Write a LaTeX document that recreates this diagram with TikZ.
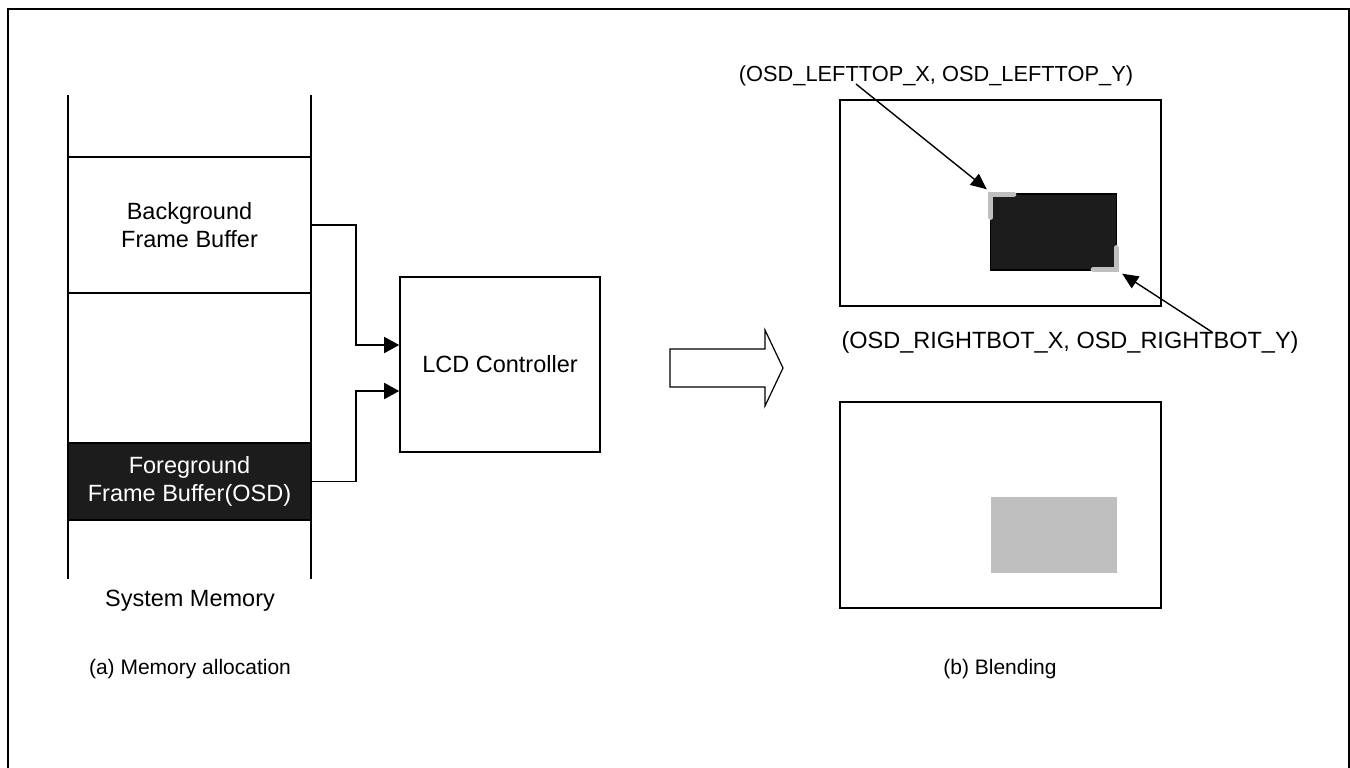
\documentclass[tikz,border=0pt]{standalone}
\usepackage{fontspec}
\setmainfont{Liberation Sans}
\usetikzlibrary{positioning,calc,arrows.meta}
\tikzset{
  line/.style    = {line width=0.8pt},
  link/.style    = {line width=0.8pt, -{Triangle[length=7.5pt,width=8pt]}},
  ptr/.style     = {line width=0.7pt, -{Triangle[length=8pt,width=7pt]}},
  memblk/.style  = {draw, line width=0.8pt, minimum width=121.5pt,
                    inner sep=0pt, align=center, font=\txt},
  lcdbox/.style  = {draw, line width=0.8pt, minimum width=100pt,
                    minimum height=87.5pt, inner sep=0pt, font=\txt},
  scrn/.style    = {draw, line width=0.8pt, minimum width=160.5pt,
                    minimum height=103pt, inner sep=0pt},
  osd/.style     = {minimum width=63pt, minimum height=38pt, inner sep=0pt},
  cornermark/.style = {line width=2.6pt, draw=black!25, line cap=round},
  lbl/.style     = {font=\txt, inner sep=1pt},
  smlbl/.style   = {font=\fontsize{10.5}{12.6}\selectfont, inner sep=1pt},
}
\newcommand{\txt}{\fontsize{11.75}{14.4}\selectfont}

\begin{document}
\begin{tikzpicture}[x=0.5pt,y=-0.5pt]
  \useasboundingbox (0,0) rectangle (1350,767);
  \clip (0,0) rectangle (1350,767);
  \draw[line width=1.25pt] (8,785) -- (8,9) -- (1349,9) -- (1349,785);

  % (a) memory
  \draw[line] (68,95) -- (68,579);
  \draw[line] (311,95) -- (311,579);
  \node[memblk, minimum height=68pt] (bg) at (189.5,225) {Background\\Frame Buffer};
  \node[memblk, minimum height=38.5pt, fill=black!89, text=white] (fg) at (189.5,481.5)
    {Foreground\\Frame Buffer(OSD)};
  \node[lbl] (sysmem) at (190,601) {System Memory};
  \node[lcdbox] (lcd) at (500,364.5) {LCD Controller};
  \draw[link] (bg.east) -- ++(44,0) |- ($(lcd.west)+(0,-19.5)$);
  \draw[link] (fg.east) -- ++(44,0) |- ($(lcd.west)+(0,26.5)$);
  \draw[line width=0.6pt] (670,349) -- (765,349) -- (765,330) -- (783,368)
    -- (765,406) -- (765,387) -- (670,387) -- cycle;

  % (b) blending
  \node[scrn] (top) at (1000.5,203) {};
  \node[scrn] (bot) at (1000.5,505) {};
  \node[osd, draw, line width=0.7pt, fill=black!89] (win) at (1053.5,232) {};
  \node[osd, fill=black!25] (blend) at (1054,535) {};
  \draw[cornermark] ($(win.north west)+(1,24)$) -- ($(win.north west)+(1,1)$) -- ++(23,0);
  \draw[cornermark] ($(win.south east)+(-1,-23)$) -- ($(win.south east)+(-1,-1)$) -- ++(-23,0);
  \node[font=\fontsize{10.9}{13}\selectfont, inner sep=1pt] (lt) at (936,76)
    {(OSD\_LEFTTOP\_X, OSD\_LEFTTOP\_Y)};
  \node[lbl] (rb) at (1070,342) {(OSD\_RIGHTBOT\_X, OSD\_RIGHTBOT\_Y)};
  \coordinate (ltp) at (856,84);
  \coordinate (rbp) at (1212,332);
  \draw[ptr] (ltp) -- ($(win.north west)+(-3,-4)$);
  \draw[ptr] (rbp) -- ($(win.south east)+(5,3)$);

  \node[smlbl] (capa) at (190,669) {(a) Memory allocation};
  \node[smlbl] (capb) at (1000,669) {(b) Blending};
\end{tikzpicture}
\end{document}
